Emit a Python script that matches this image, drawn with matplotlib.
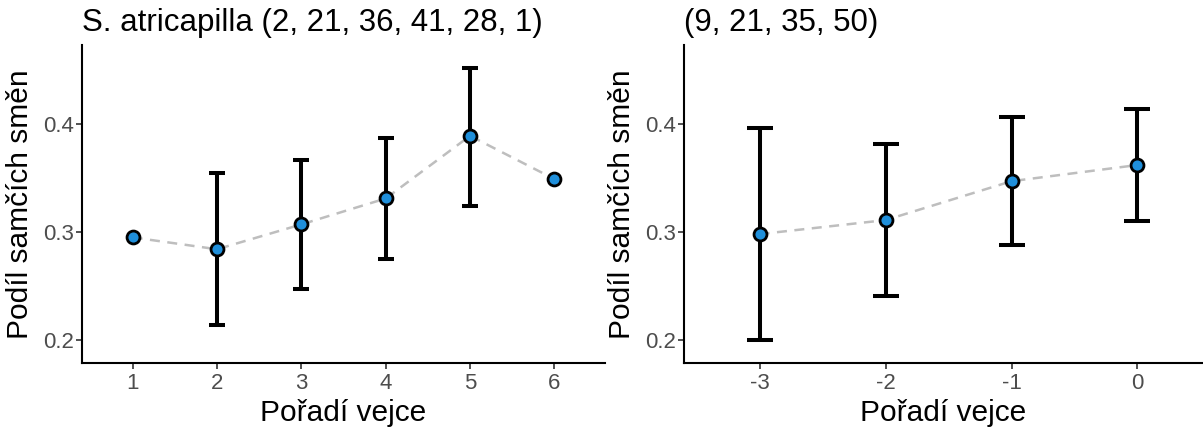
import matplotlib
matplotlib.use("Agg")
import matplotlib.pyplot as plt

plt.rcParams['font.family'] = ['Liberation Sans', 'DejaVu Sans']

# Left panel data
left_x = [1, 2, 3, 4, 5, 6]
left_mean = [0.295, 0.284, 0.307, 0.331, 0.389, 0.349]
left_lo = [None, 0.214, 0.247, 0.275, 0.324, None]
left_hi = [None, 0.355, 0.367, 0.387, 0.452, None]
left_title = "S. atricapilla (2, 21, 36, 41, 28, 1)"

# Right panel data
right_x = [-3, -2, -1, 0]
right_mean = [0.298, 0.311, 0.347, 0.362]
right_lo = [0.200, 0.241, 0.288, 0.310]
right_hi = [0.396, 0.381, 0.406, 0.414]
right_title = "(9, 21, 35, 50)"

y_ticks = [0.2, 0.3, 0.4]
xlabel = "Pořadí vejce"
ylabel = "Podíl samčích směn"

W, H = 1203, 430
fig = plt.figure(figsize=(W / 100, H / 100), dpi=100)

def px_axes(x0, x1, y0, y1):
    return fig.add_axes([x0 / W, 1 - y1 / H, (x1 - x0) / W, (y1 - y0) / H])

ax1 = px_axes(82, 605, 45, 363)
ax2 = px_axes(684, 1203, 45, 363)

point_color = '#1F8FDB'
tick_color = '#4D4D4D'
cap_width = 0.2  # in data units

def draw(ax, xs, mean, lo, hi, title, xlim, ax_px_width):
    px_per_unit = ax_px_width / (xlim[1] - xlim[0])
    cap_pt = cap_width / 2 * px_per_unit * 0.72
    ax.plot(xs, mean, linestyle=(0, (4, 3)), color='#BEBEBE', linewidth=1.8, zorder=1)
    for x, m, l, h in zip(xs, mean, lo, hi):
        if l is not None:
            ax.errorbar([x], [m], yerr=[[m - l], [h - m]], fmt='none', ecolor='black',
                        elinewidth=2.9, capsize=cap_pt, capthick=2.9, zorder=2)
    ax.plot(xs, mean, linestyle='none', marker='o', markersize=9.3,
            markerfacecolor=point_color, markeredgecolor='black', markeredgewidth=2.0, zorder=3)
    ax.set_xlim(*xlim)
    ax.set_ylim(0.1787, 0.4731)
    ax.set_xticks(xs)
    ax.set_xticklabels([str(x) for x in xs])
    ax.set_yticks(y_ticks)
    ax.set_yticklabels([str(t) for t in y_ticks])
    for s in ['top', 'right']:
        ax.spines[s].set_visible(False)
    for s in ['left', 'bottom']:
        ax.spines[s].set_linewidth(1.5)
        ax.spines[s].set_color('black')
    ax.tick_params(axis='both', colors='#333333', labelcolor=tick_color, labelsize=16,
                   length=4.5, width=1.2)
    ax.tick_params(axis='y', pad=1.5)
    ax.tick_params(axis='x', pad=3)
    ax.set_xlabel(xlabel, fontsize=21.5, color='black', labelpad=3)
    ax.set_ylabel(ylabel, fontsize=21.5, color='black', labelpad=6)
    ax.set_title(title, fontsize=22.5, loc='left', pad=10, color='black')

draw(ax1, left_x, left_mean, left_lo, left_hi, left_title, (0.4, 6.6), 605 - 82)
draw(ax2, right_x, right_mean, right_lo, right_hi, right_title, (-3.6, 0.52), 1203 - 684)

fig.savefig('out.png', dpi=100, facecolor='white')
